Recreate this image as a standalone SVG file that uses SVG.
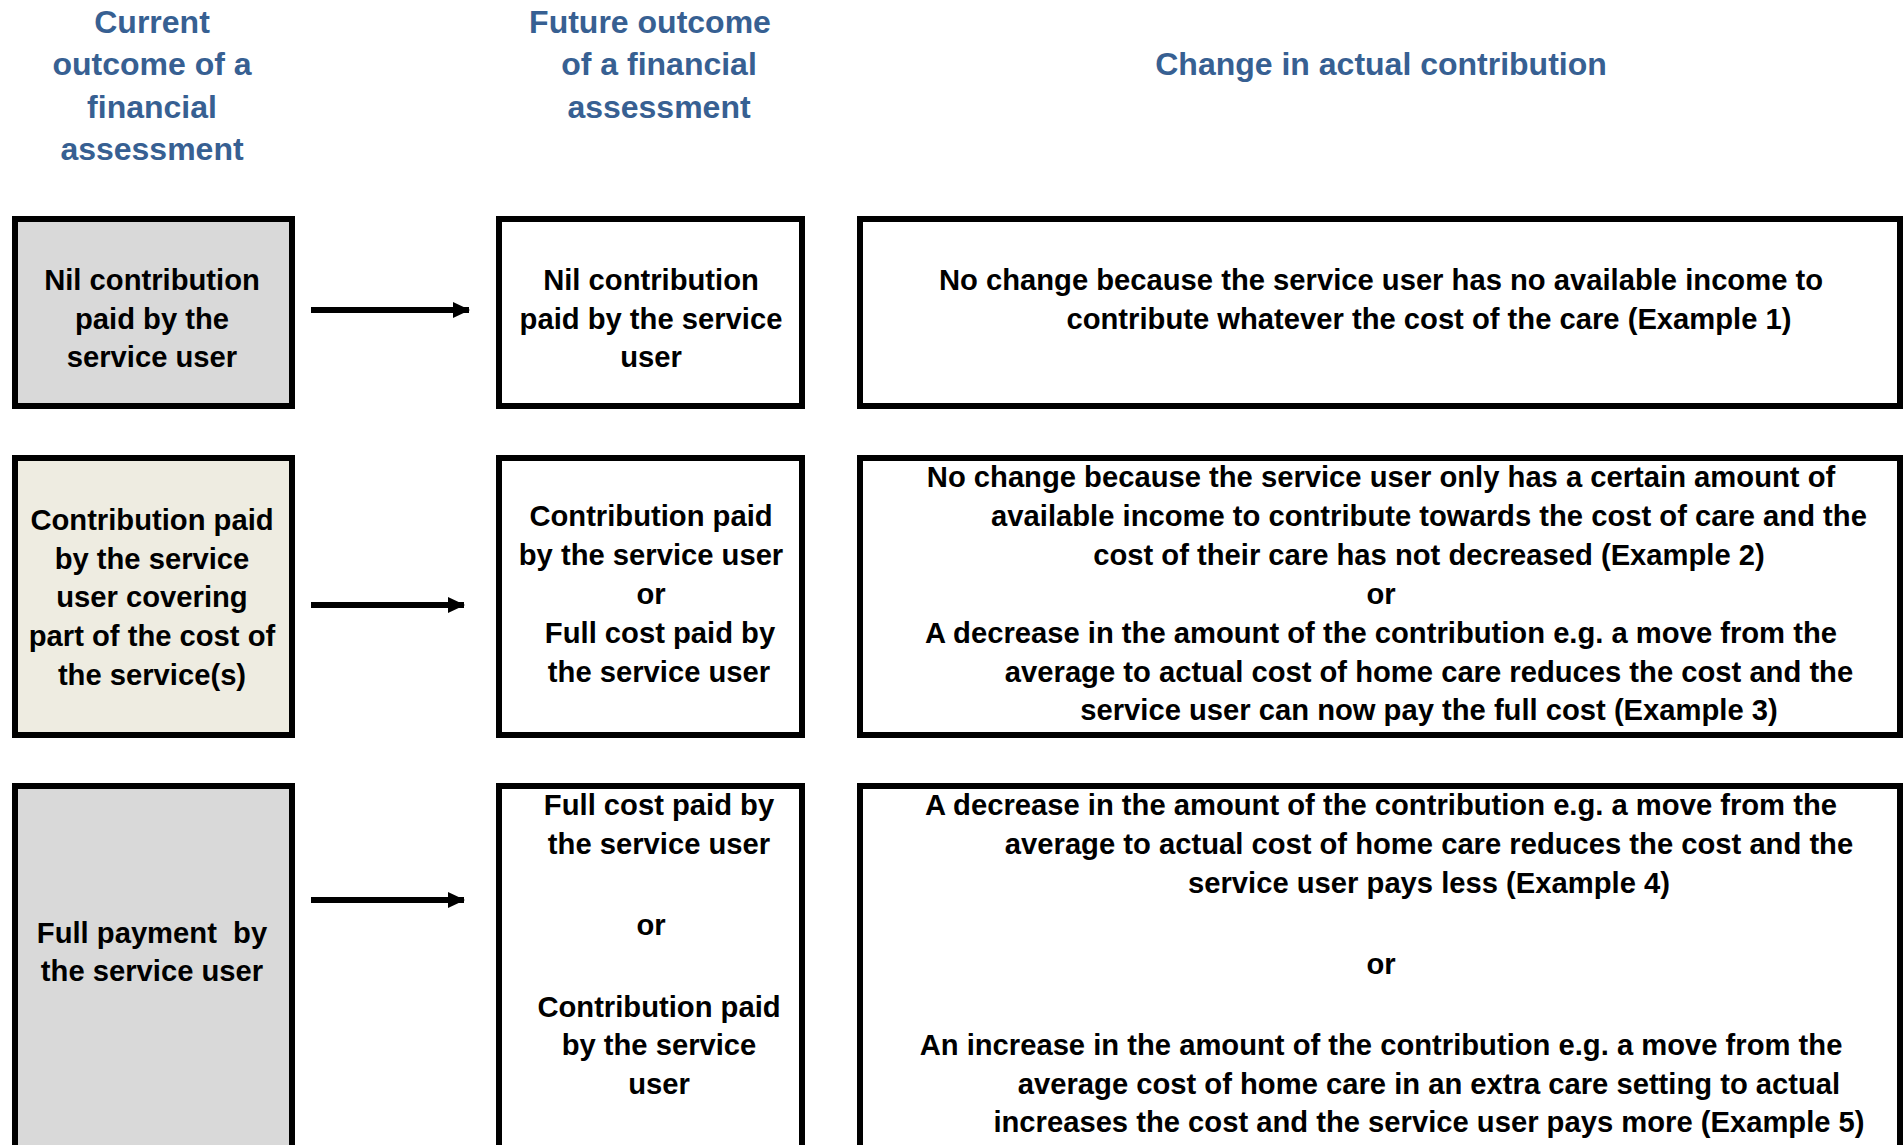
<svg xmlns="http://www.w3.org/2000/svg" width="1904" height="1145" viewBox="0 0 1904 1145">
<style>
.hd{font-family:"Liberation Sans",Arial,sans-serif;font-weight:bold;font-size:32px;fill:#376092;text-anchor:middle}
.tx{font-family:"Liberation Sans",Arial,sans-serif;font-weight:bold;font-size:29.2px;fill:#000;text-anchor:middle}
.box{stroke:#000;stroke-width:6}
.conn{stroke:#000;stroke-width:6;fill:none}
</style>
<defs>
<marker id="ah" markerUnits="userSpaceOnUse" markerWidth="18" markerHeight="18" refX="16" refY="9" orient="auto">
<path d="M0,1 L17,9 L0,17 Z" fill="#000"/>
</marker>
</defs>
<rect width="1904" height="1145" fill="#fff"/>
<g id="headers">
<text class="hd" x="152" y="33">Current</text>
<text class="hd" x="152" y="75">outcome of a</text>
<text class="hd" x="152" y="118">financial</text>
<text class="hd" x="152" y="160">assessment</text>
<text class="hd" x="650" y="33">Future outcome</text>
<text class="hd" x="659" y="75">of a financial</text>
<text class="hd" x="659" y="118">assessment</text>
<text class="hd" x="1381" y="75">Change in actual contribution</text>
</g>
<g id="connectors">
<line class="conn" x1="311" y1="310" x2="469" y2="310" marker-end="url(#ah)"/>
<line class="conn" x1="311" y1="605" x2="464" y2="605" marker-end="url(#ah)"/>
<line class="conn" x1="311" y1="900" x2="464" y2="900" marker-end="url(#ah)"/>
</g>
<g id="row1-current">
<rect class="box" x="15" y="219" width="277" height="187" fill="#d9d9d9"/>
<text class="tx" x="152" y="290">Nil contribution</text>
<text class="tx" x="152" y="329">paid by the</text>
<text class="tx" x="152" y="367">service user</text>
</g>
<g id="row1-future">
<rect class="box" x="499" y="219" width="303" height="187" fill="#fff"/>
<text class="tx" x="651" y="290">Nil contribution</text>
<text class="tx" x="651" y="329">paid by the service</text>
<text class="tx" x="651" y="367">user</text>
</g>
<g id="row1-change">
<rect class="box" x="860" y="219" width="1040" height="187" fill="#fff"/>
<text class="tx" x="1381" y="290">No change because the service user has no available income to</text>
<text class="tx" x="1429" y="329">contribute whatever the cost of the care (Example 1)</text>
</g>
<g id="row2-current">
<rect class="box" x="15" y="458" width="277" height="277" fill="#eeece1"/>
<text class="tx" x="152" y="530">Contribution paid</text>
<text class="tx" x="152" y="569">by the service</text>
<text class="tx" x="152" y="607">user covering</text>
<text class="tx" x="152" y="646">part of the cost of</text>
<text class="tx" x="152" y="685">the service(s)</text>
</g>
<g id="row2-future">
<rect class="box" x="499" y="458" width="303" height="277" fill="#fff"/>
<text class="tx" x="651" y="526">Contribution paid</text>
<text class="tx" x="651" y="565">by the service user</text>
<text class="tx" x="651" y="604">or</text>
<text class="tx" x="660" y="643">Full cost paid by</text>
<text class="tx" x="659" y="682">the service user</text>
</g>
<g id="row2-change">
<rect class="box" x="860" y="458" width="1040" height="277" fill="#fff"/>
<text class="tx" x="1381" y="487">No change because the service user only has a certain amount of</text>
<text class="tx" x="1429" y="526">available income to contribute towards the cost of care and the</text>
<text class="tx" x="1429" y="565">cost of their care has not decreased (Example 2)</text>
<text class="tx" x="1381" y="604">or</text>
<text class="tx" x="1381" y="643">A decrease in the amount of the contribution e.g. a move from the</text>
<text class="tx" x="1429" y="682">average to actual cost of home care reduces the cost and the</text>
<text class="tx" x="1429" y="720">service user can now pay the full cost (Example 3)</text>
</g>
<g id="row3-current">
<rect class="box" x="15" y="786" width="277" height="370" fill="#d9d9d9"/>
<text class="tx" x="152" y="943" xml:space="preserve">Full payment  by</text>
<text class="tx" x="152" y="981">the service user</text>
</g>
<g id="row3-future">
<rect class="box" x="499" y="786" width="303" height="370" fill="#fff"/>
<text class="tx" x="659" y="815">Full cost paid by</text>
<text class="tx" x="659" y="854">the service user</text>
<text class="tx" x="651" y="935">or</text>
<text class="tx" x="659" y="1017">Contribution paid</text>
<text class="tx" x="659" y="1055">by the service</text>
<text class="tx" x="659" y="1094">user</text>
</g>
<g id="row3-change">
<rect class="box" x="860" y="786" width="1040" height="370" fill="#fff"/>
<text class="tx" x="1381" y="815">A decrease in the amount of the contribution e.g. a move from the</text>
<text class="tx" x="1429" y="854">average to actual cost of home care reduces the cost and the</text>
<text class="tx" x="1429" y="893">service user pays less (Example 4)</text>
<text class="tx" x="1381" y="974">or</text>
<text class="tx" x="1381" y="1055">An increase in the amount of the contribution e.g. a move from the</text>
<text class="tx" x="1429" y="1094">average cost of home care in an extra care setting to actual</text>
<text class="tx" x="1429" y="1132">increases the cost and the service user pays more (Example 5)</text>
</g>
</svg>
